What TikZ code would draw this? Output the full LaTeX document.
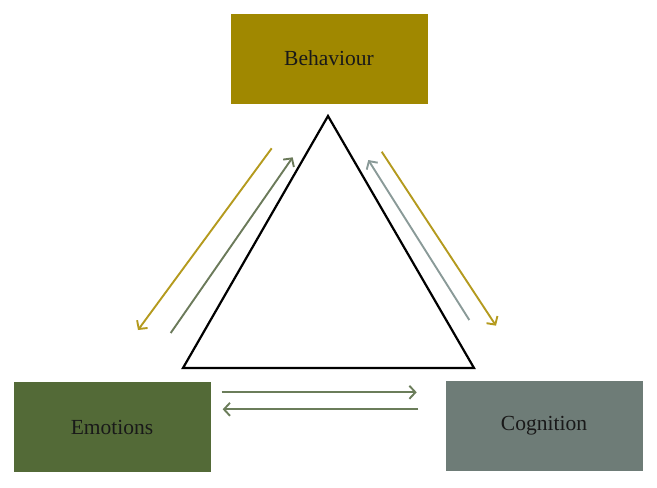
\documentclass[tikz,border=0pt]{standalone}
\usepackage{fontspec}
\setmainfont{Liberation Serif}
\usetikzlibrary{arrows.meta}
\definecolor{behc}{HTML}{A08800}
\definecolor{emoc}{HTML}{536A37}
\definecolor{cogc}{HTML}{6E7C77}
\definecolor{yarr}{HTML}{B49A1E}
\definecolor{garr}{HTML}{6B7A5A}
\definecolor{barr}{HTML}{8A9A98}
\definecolor{harr}{HTML}{6B7D5A}
\begin{document}
\begin{tikzpicture}[x=1pt,y=-1pt,
  box/.style={draw=none,minimum width=197pt,minimum height=90pt,inner sep=0pt,font=\fontsize{21.5}{26}\selectfont,text=black!90},
  arr/.style={line width=1.9pt,-{Straight Barb[length=6pt,width=13pt,line width=1.9pt]}}]
\useasboundingbox (0,0) rectangle (657,488);
\node[box,fill=behc] (beh) at (329,58.5) {Behaviour};
\node[box,fill=emoc] (emo) at (112,427) {Emotions};
\node[box,fill=cogc] (cog) at (544,426) {Cognition};
\coordinate (t1) at (328,116);
\coordinate (t2) at (183,368);
\coordinate (t3) at (474,368);
\draw[line width=2.2pt,line join=miter] (t1) -- (t2) -- (t3) -- cycle;
\coordinate (a1s) at (271.7,148.3); \coordinate (a1e) at (138,330);
\coordinate (a2s) at (170.7,333); \coordinate (a2e) at (292.7,157.3);
\coordinate (a3s) at (469.3,320); \coordinate (a3e) at (368.3,160);
\coordinate (a4s) at (381.7,151.7); \coordinate (a4e) at (496,325.7);
\coordinate (a5s) at (221.7,392.3); \coordinate (a5e) at (416.7,392.3);
\coordinate (a6s) at (418.3,409.3); \coordinate (a6e) at (222.7,409.3);
\draw[arr,yarr] (a1s) -- (a1e);
\draw[arr,garr] (a2s) -- (a2e);
\draw[arr,barr] (a3s) -- (a3e);
\draw[arr,yarr] (a4s) -- (a4e);
\draw[arr,harr] (a5s) -- (a5e);
\draw[arr,harr] (a6s) -- (a6e);
\end{tikzpicture}
\end{document}
